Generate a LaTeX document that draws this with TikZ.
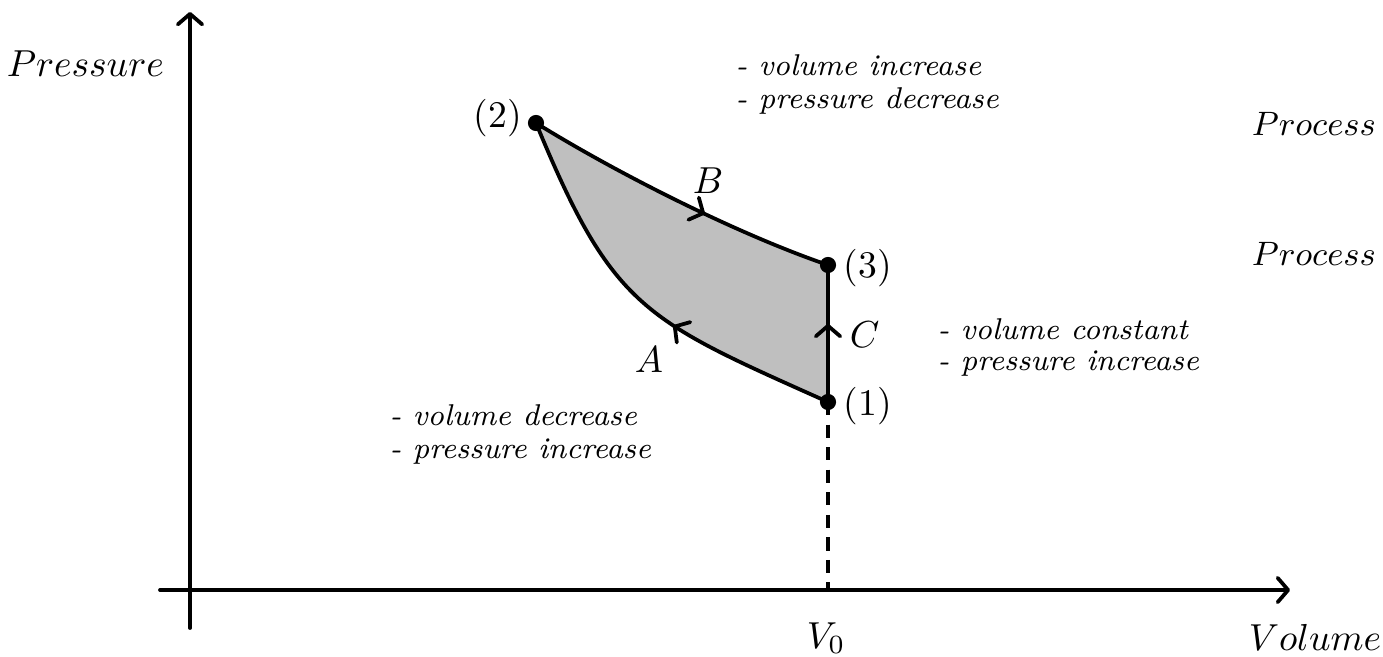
\documentclass[tikz,border=0pt]{standalone}
\usetikzlibrary{decorations.markings,arrows.meta}
\begin{document}
\begin{tikzpicture}[x=0.266pt,y=-0.266pt,
  >={Straight Barb[length=2.8pt,width=6.5pt,round]},
  axis/.style={line width=1pt,->,line cap=round},
  curve/.style={line width=1pt},
  dot/.style={circle,fill=black,inner sep=0pt,minimum size=4.3pt},
  lbl/.style={anchor=base west,inner sep=0pt,font=\normalsize},
  note/.style={anchor=base west,inner sep=0pt,font=\footnotesize\itshape},
  midarrow/.style={postaction={decorate},decoration={markings,mark=at position #1 with {\arrow[line width=1pt]{>}}}}
]
\useasboundingbox (0,0) rectangle (1383,656);
% points
\coordinate (P1) at (828,402);
\coordinate (P2) at (536,123);
\coordinate (P3) at (828,265);
% fill
\fill[lightgray] (P1) .. controls (645,320) and (613,310) .. (P2)
  .. controls (620,175) and (740,235) .. (P3) -- cycle;
% axes
\coordinate (xs) at (160,590);
\coordinate (xe) at (1290,590);
\coordinate (ys) at (190,628);
\coordinate (ye) at (190,12);
\coordinate (V0) at (828,590);
\draw[axis] (xs) -- (xe);
\draw[axis] (ys) -- (ye);
\draw[line width=1pt,dash pattern=on 3.5pt off 2.5pt] (P1) -- (V0);
% curves
\draw[curve,midarrow=0.41] (P1) .. controls (645,320) and (613,310) .. (P2);
\draw[curve,midarrow=0.59] (P2) .. controls (620,175) and (740,235) .. (P3);
\draw[curve,midarrow=0.57] (P1) -- (P3);
% dots
\node[dot] (n1) at (P1) {};
\node[dot] (n2) at (P2) {};
\node[dot] (n3) at (P3) {};
% labels
\node[lbl] (l2) at (473,127) {(2)};
\node[lbl] (l3) at (843,277) {(3)};
\node[lbl] (l1) at (843,415) {(1)};
\node[lbl] (lB) at (692,193) {$B$};
\node[lbl] (lA) at (634,372) {$A$};
\node[lbl] (lC) at (849,347) {$C$};
\node[lbl] (lp) at (6,76) {$Pressure$};
\node[lbl] (lv) at (1248,650) {$Volume$};
\node[lbl] (lv0) at (806,648) {$V_0$};
\node[lbl,font=\small] (pr1) at (1251,135) {$Process$};
\node[lbl,font=\small] (pr2) at (1251,265) {$Process$};
% notes
\node[note] (t1) at (735,75) {- volume increase};
\node[note] (t2) at (735,108) {- pressure decrease};
\node[note] (t3) at (937,339) {- volume constant};
\node[note] (t4) at (937,370) {- pressure increase};
\node[note] (t5) at (389,425) {- volume decrease};
\node[note] (t6) at (389,458) {- pressure increase};
\end{tikzpicture}
\end{document}
